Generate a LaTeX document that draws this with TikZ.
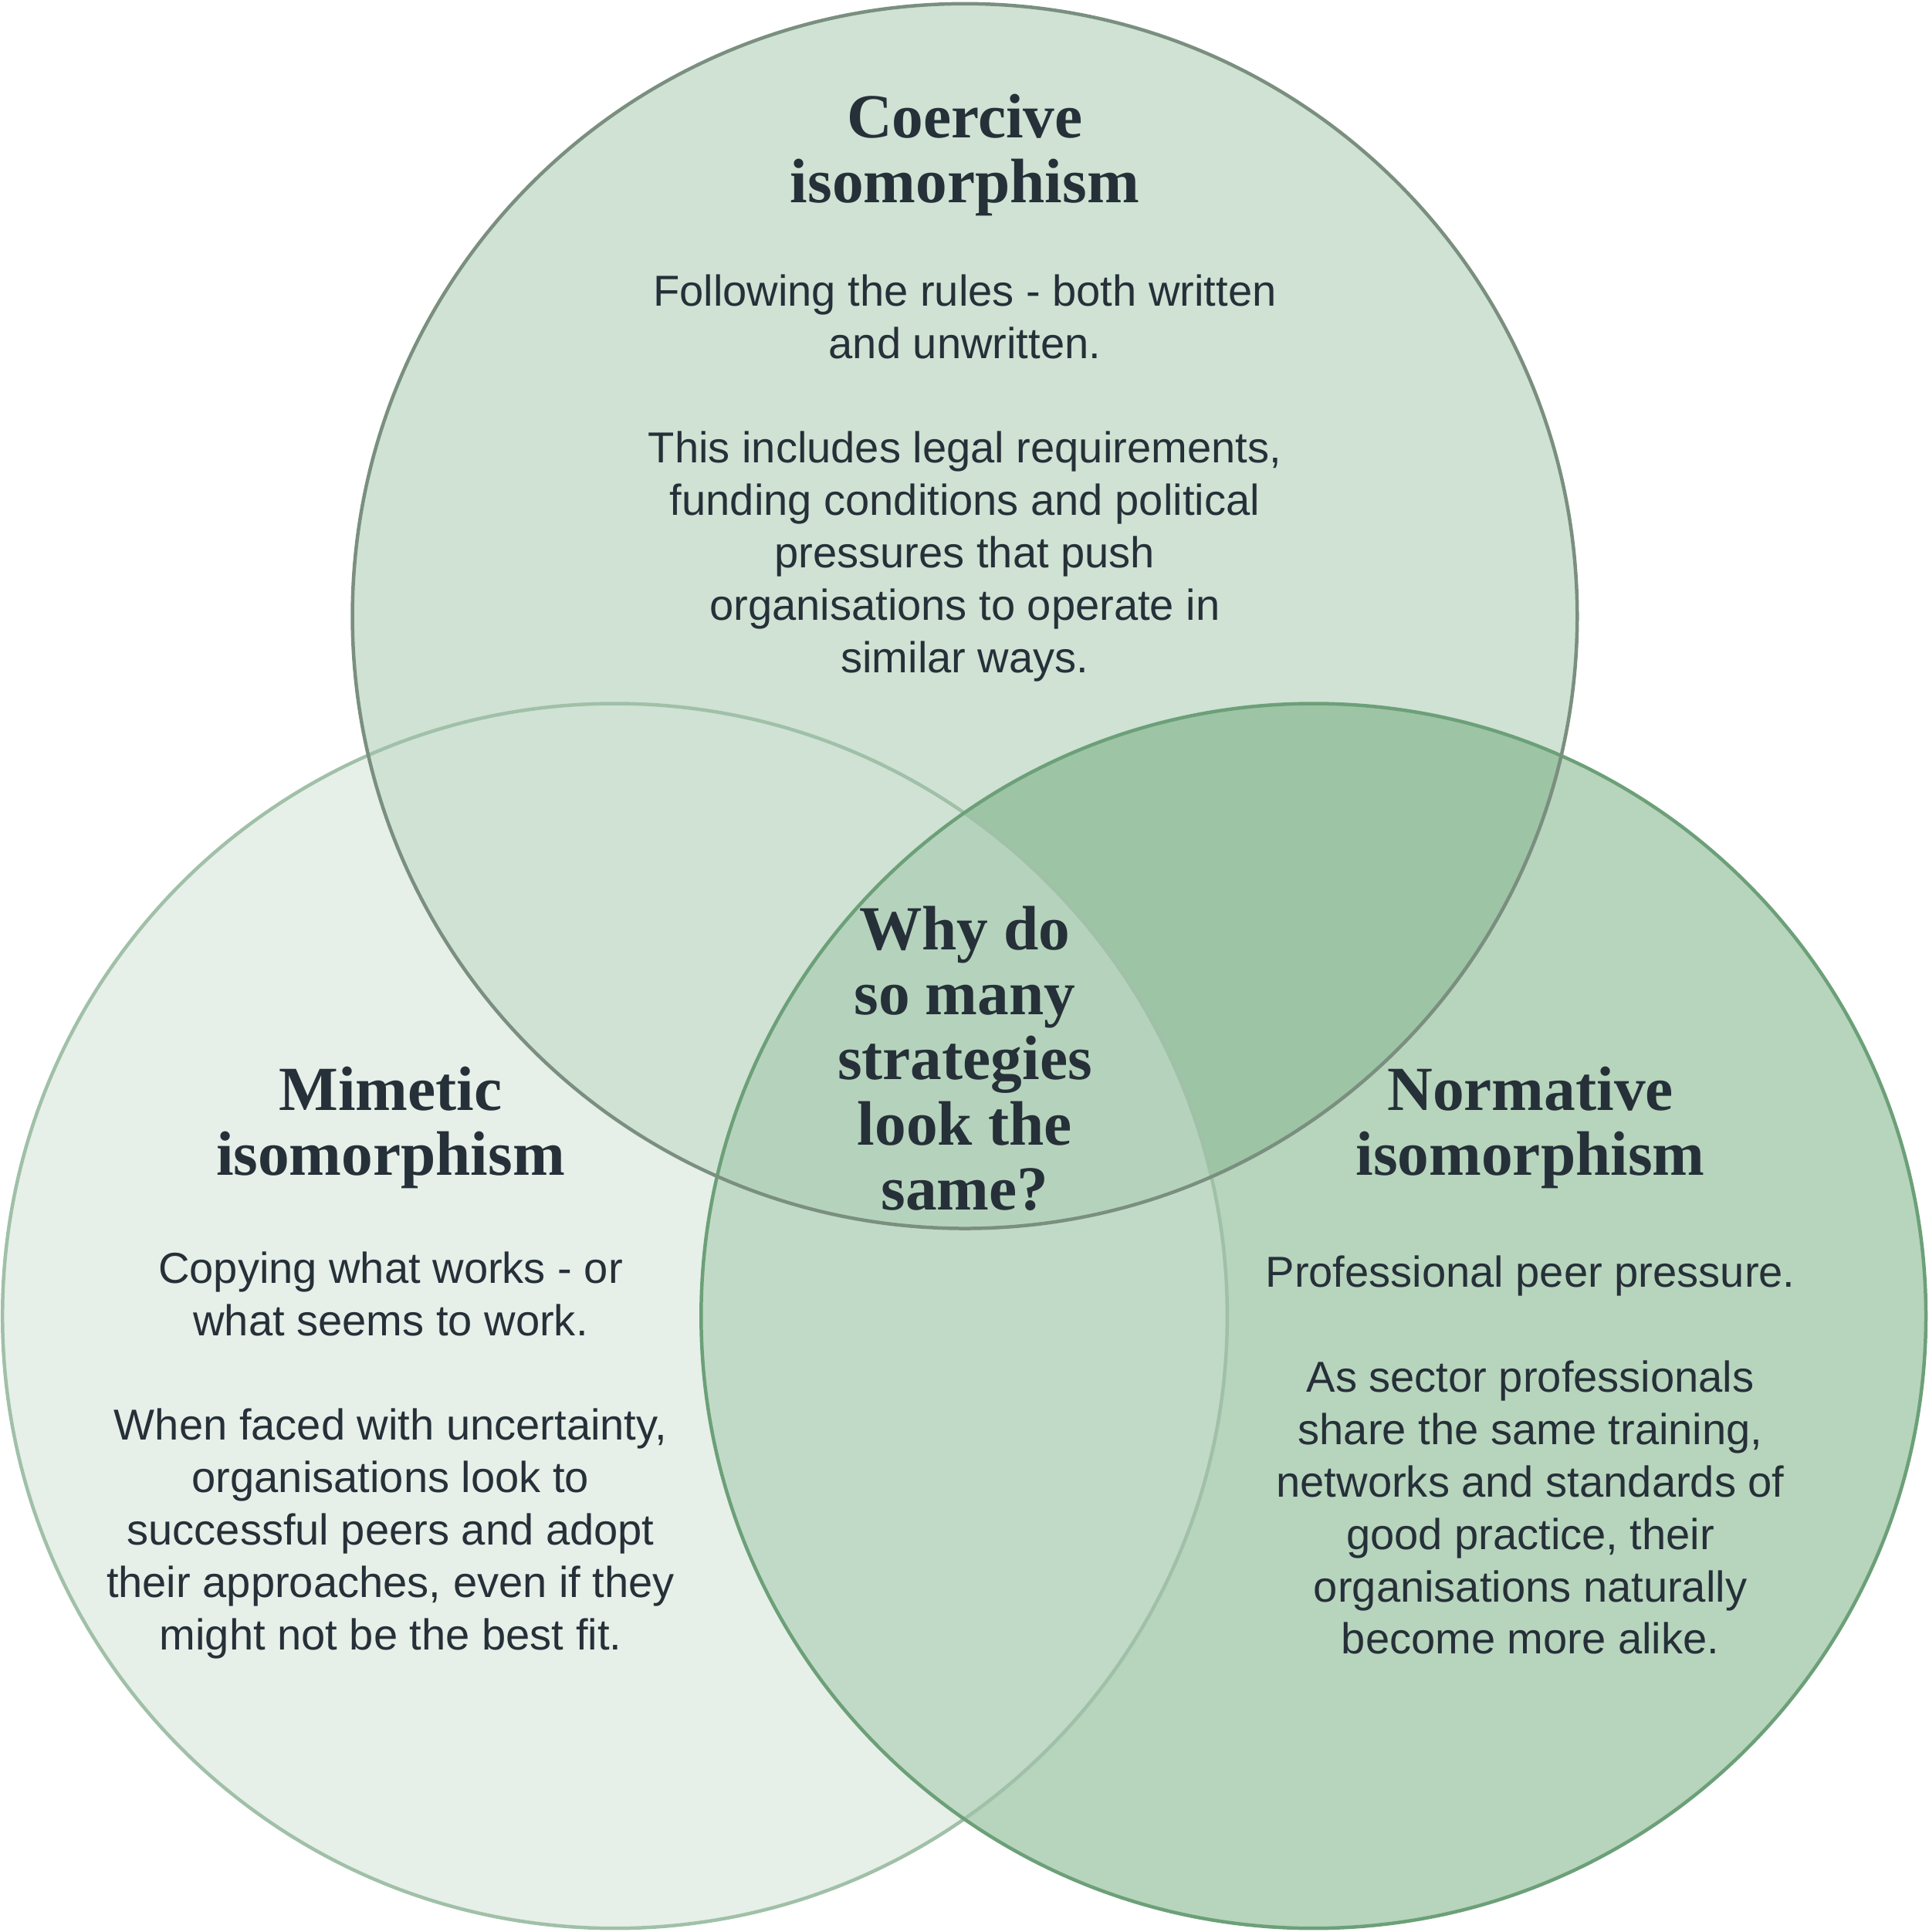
\documentclass[tikz,border=0pt]{standalone}
\usepackage{fontspec}
\setmainfont{Liberation Sans}
\newfontfamily\headfont{Liberation Serif}
\definecolor{inktext}{RGB}{38, 48, 56}
\definecolor{leftfill}{RGB}{230, 239, 232}
\definecolor{topfill}{RGB}{207, 226, 212}
\definecolor{rightfill}{RGB}{183, 212, 189}
\definecolor{lrfill}{RGB}{193, 218, 199}
\definecolor{trfill}{RGB}{158, 196, 166}
\definecolor{midfill}{RGB}{181, 211, 188}
\definecolor{leftline}{RGB}{160, 192, 168}
\definecolor{topline}{RGB}{122, 143, 127}
\definecolor{rightline}{RGB}{108, 160, 120}
\tikzset{
  headtext/.style={align=center, text=inktext, font=\headfont\bfseries\fontsize{14.5}{15}\selectfont},
  bodytext/.style={align=center, text=inktext, font=\fontsize{10}{12.1}\selectfont}
}
\begin{document}
\begin{tikzpicture}[x=0.1mm, y=-0.1mm]
\useasboundingbox (0,0) rectangle (1565,1568);
% Circle centres
\coordinate (ctop) at (783,500);
\coordinate (cleft) at (499,1068);
\coordinate (cright) at (1066,1068);
% Base fills
\fill[leftfill] (cleft) circle[radius=497];
\fill[topfill] (ctop) circle[radius=497];
\fill[rightfill] (cright) circle[radius=497];
% Overlaps
\begin{scope}
  \clip (cleft) circle[radius=497];
  \fill[lrfill] (cright) circle[radius=497];
\end{scope}
\begin{scope}
  \clip (ctop) circle[radius=497];
  \fill[trfill] (cright) circle[radius=497];
\end{scope}
\begin{scope}
  \clip (ctop) circle[radius=497];
  \clip (cleft) circle[radius=497];
  \fill[midfill] (cright) circle[radius=497];
\end{scope}
% Outlines
\draw[leftline, line width=0.8pt] (cleft) circle[radius=497];
\draw[rightline, line width=0.8pt] (cright) circle[radius=497];
\draw[topline, line width=0.8pt] (ctop) circle[radius=497];
% Texts
\node[headtext] (coerhead) at (783,126) {Coercive\\isomorphism};
\node[bodytext] (coerbody) at (783,388) {Following the rules - both written\\and unwritten.\\[12.1pt]This includes legal requirements,\\funding conditions and political\\pressures that push\\organisations to operate in\\similar ways.};
\node[headtext] (mimhead) at (317,915) {Mimetic\\isomorphism};
\node[bodytext] (mimbody) at (317,1181) {Copying what works - or\\what seems to work.\\[12.1pt]When faced with uncertainty,\\organisations look to\\successful peers and adopt\\their approaches, even if they\\might not be the best fit.};
\node[headtext] (normhead) at (1242,915) {Normative\\isomorphism};
\node[bodytext] (normbody) at (1242,1181) {Professional peer pressure.\\[12.1pt]As sector professionals\\share the same training,\\networks and standards of\\good practice, their\\organisations naturally\\become more alike.};
\node[headtext] (question) at (783,859) {Why do\\so many\\strategies\\look the\\same?};
\end{tikzpicture}
\end{document}
